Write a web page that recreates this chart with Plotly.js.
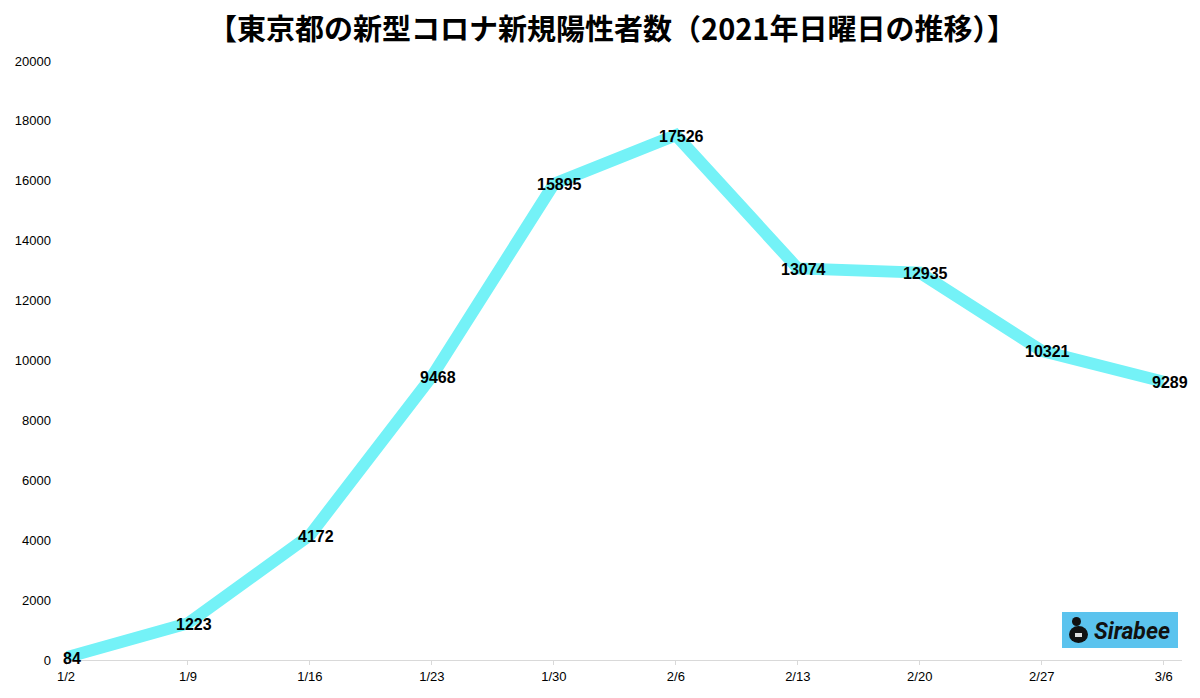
<!DOCTYPE html>
<html><head><meta charset="utf-8">
<script src="https://cdn.plot.ly/plotly-3.0.1.min.js"></script>
<style>body{margin:0;background:#fff}#c{width:1200px;height:698px}</style>
</head><body><div id="c"></div>
<script>
const dates = ['1/2','1/9','1/16','1/23','1/30','2/6','2/13','2/20','2/27','3/6'];
const cases = [84,1223,4172,9468,15895,17526,13074,12935,10321,9289];
const yTicks = [0,2000,4000,6000,8000,10000,12000,14000,16000,18000,20000];

const idx = dates.map((d,i)=>i);
const trace = {
  x: idx, y: cases, mode: 'lines', type: 'scatter',
  line: {color: '#74f2f7', width: 12},
  cliponaxis: false, hoverinfo: 'skip'
};
const labelFont = {family: '"Liberation Sans", Arial, sans-serif', size: 16, color: '#000', weight: 'bold'};
const labels = idx.map(i => ({
  x: i, y: cases[i], xref: 'x', yref: 'y', text: String(cases[i]), showarrow: false,
  xanchor: 'center', yanchor: 'middle', xshift: 6, yshift: -1, font: labelFont
}));
const px = v => (v-66)/1116, py = v => (660-v)/599;
const layout = {
  width: 1200, height: 698,
  margin: {l: 66, r: 18, t: 61, b: 38},
  paper_bgcolor: '#fff', plot_bgcolor: '#fff',
  showlegend: false,
  title: {text: '【東京都の新型コロナ新規陽性者数（2021年日曜日の推移）】', x: 0.51, xanchor: 'center', y: 0.957, yanchor: 'middle',
    font: {family: '"Noto Sans CJK JP", sans-serif', size: 29, color: '#000', weight: 'bold'}},
  xaxis: {range: [0, 9.15], tickvals: idx, ticktext: dates, showgrid: false, zeroline: false,
    showline: true, linecolor: '#d9d9d9', linewidth: 1, ticks: 'outside', ticklen: 4, tickcolor: '#d9d9d9',
    tickfont: {family: '"Liberation Sans", Arial, sans-serif', size: 13, color: '#000'}, fixedrange: true},
  yaxis: {range: [0, 20000], tickvals: yTicks, ticktext: yTicks.map(String), showgrid: false, zeroline: false,
    showline: false, ticks: '', ticklabelstandoff: 14,
    tickfont: {family: '"Liberation Sans", Arial, sans-serif', size: 13, color: '#000'}, fixedrange: true},
  shapes: [
    {type: 'rect', xref: 'paper', yref: 'paper', x0: px(1062), x1: px(1178), y0: py(648), y1: py(612),
      fillcolor: '#5bc3ee', line: {width: 0}},
    {type: 'circle', xref: 'paper', yref: 'paper', x0: px(1069), x1: px(1088), y0: py(643), y1: py(626),
      fillcolor: '#111', line: {width: 0}},
    {type: 'circle', xref: 'paper', yref: 'paper', x0: px(1072), x1: px(1081), y0: py(626), y1: py(617),
      fillcolor: '#111', line: {width: 0}},
    {type: 'rect', xref: 'paper', yref: 'paper', x0: px(1075), x1: px(1082), y0: py(637), y1: py(633),
      fillcolor: '#ddd', line: {width: 0}}
  ],
  annotations: labels.concat([{xref: 'paper', yref: 'paper', x: px(1132), y: py(631), xanchor: 'center', yanchor: 'middle',
    text: '<b><i>Sirabee</i></b>', showarrow: false,
    font: {family: 'Roboto, Arial, sans-serif', size: 23, color: '#111'}}])
};
Plotly.newPlot('c', [trace], layout, {displayModeBar: false, staticPlot: true});
</script></body></html>
